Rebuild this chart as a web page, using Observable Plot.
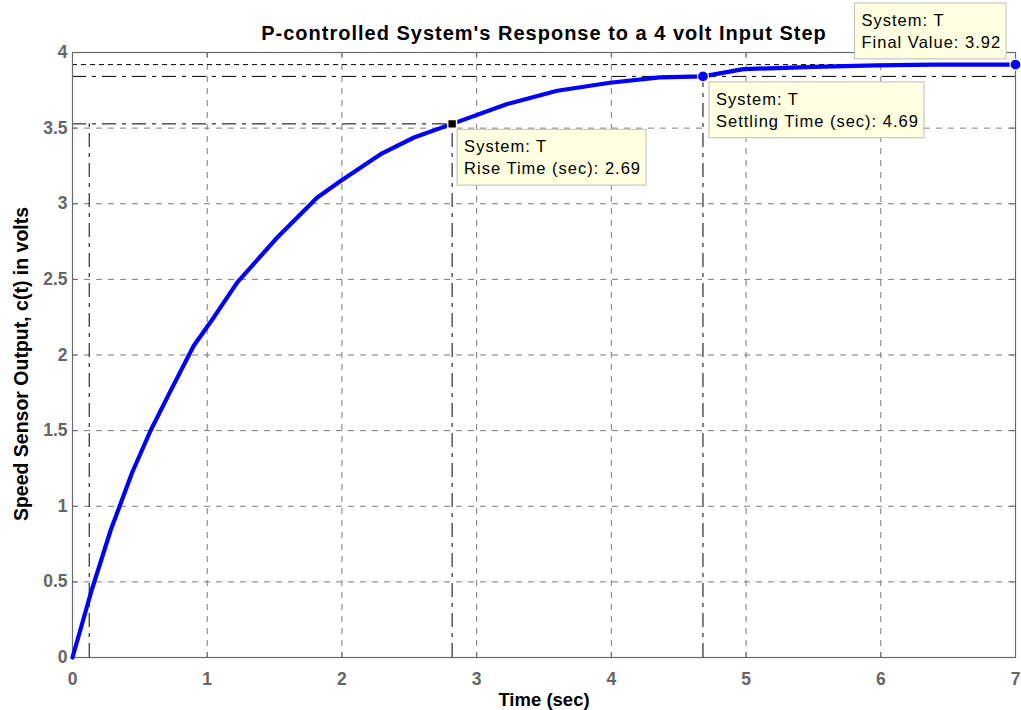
<!DOCTYPE html>
<html><head><meta charset="utf-8">
<script src="https://cdn.jsdelivr.net/npm/d3@7"></script>
<script src="https://cdn.jsdelivr.net/npm/@observablehq/plot@0.6"></script>
<style>body{margin:0;background:#fff} svg{display:block}</style>
</head><body><div id="chart"></div>
<script>
// Step response samples
const time   = [0, 0.134, 0.282, 0.443, 0.579, 0.728, 0.90, 1.05, 1.222, 1.52, 1.817, 1.99, 2.287, 2.535, 2.818, 3.227, 3.598, 3.99, 4.36, 4.68, 4.98, 5.5, 5.97, 6.39, 7];
const output = [0, 0.42, 0.838, 1.223, 1.499, 1.763, 2.061, 2.25, 2.479, 2.777, 3.041, 3.15, 3.328, 3.438, 3.528, 3.659, 3.747, 3.80, 3.835, 3.842, 3.89, 3.905, 3.915, 3.92, 3.92];

// Axis ticks
const xTicks = [0, 1, 2, 3, 4, 5, 6, 7];
const xTickLabels = ["0", "1", "2", "3", "4", "5", "6", "7"];
const yTicks = [0, 0.5, 1, 1.5, 2, 2.5, 3, 3.5, 4];
const yTickLabels = ["0", "0.5", "1", "1.5", "2", "2.5", "3", "3.5", "4"];

// Characteristics
const finalValue = 3.92;
const riseStart = 0.124;
const riseEnd = 2.818;
const riseLevel = 3.528;
const settleTime = 4.68;
const settleLevel = 3.842;

// Datatips
const tipTimes  = [riseEnd, settleTime, 7];
const tipValues = [riseLevel, settleLevel, finalValue];
const tipTexts  = ["System: T\nRise Time (sec): 2.69", "System: T\nSettling Time (sec): 4.69", "System: T\nFinal Value: 3.92"];

const titleText = "P-controlled System's Response to a 4 volt Input Step";
const xLabel = "Time (sec)";
const yLabel = "Speed Sensor Output, c(t) in volts";

const curve = time.map((t, i) => ({t, v: output[i]}));
const tips = tipTimes.map((t, i) => ({t, v: tipValues[i], text: tipTexts[i], i}));
const tipDx = [12, 13, -154];
const tipDy = [13, 13, -54];

const W = 1021, H = 710;
const grid = {stroke: "#7a7a7a", strokeWidth: 1, strokeDasharray: "6,6"};
const font = "Liberation Sans, Arial, Helvetica, sans-serif";
const tickLen = 5 / 151.25, tickLenX = 5 / 134.7;
const charLine = {stroke: "#000", strokeWidth: 1, strokeDasharray: "14,6,4,6"};

const chart = Plot.plot({
  width: W, height: H,
  marginLeft: 72, marginRight: 6, marginTop: 52, marginBottom: 53,
  x: {domain: [0, 7], axis: null},
  y: {domain: [0, 4], axis: null},
  style: {fontFamily: font, background: "#fff", overflow: "visible"},
  marks: [
    Plot.ruleX(xTicks.slice(1, -1), {x: d => d, ...grid}),
    Plot.ruleY(yTicks.slice(1, -1), {y: d => d, ...grid}),
    // characteristic lines
    Plot.ruleY([finalValue], {y: d => d, stroke: "#000", strokeWidth: 1, strokeDasharray: "5,4"}),
    Plot.ruleY([settleLevel], {y: d => d, ...charLine}),
    Plot.ruleY([riseLevel], {y: d => d, x1: 0, x2: riseEnd, ...charLine}),
    Plot.ruleX([riseStart, riseEnd], {x: d => d, y1: 0, y2: riseLevel, ...charLine}),
    Plot.ruleX([settleTime], {x: d => d, y1: 0, y2: settleLevel, ...charLine}),
    // inward ticks
    Plot.ruleX(xTicks, {x: d => d, y1: 0, y2: tickLen, stroke: "#6a6a6a"}),
    Plot.ruleX(xTicks, {x: d => d, y1: 4 - tickLen, y2: 4, stroke: "#6a6a6a"}),
    Plot.ruleY(yTicks, {y: d => d, x1: 0, x2: tickLenX, stroke: "#6a6a6a"}),
    Plot.ruleY(yTicks, {y: d => d, x1: 7 - tickLenX, x2: 7, stroke: "#6a6a6a"}),
    Plot.frame({stroke: "#6a6a6a", strokeWidth: 1.2}),
    // response
    Plot.line(curve, {x: "t", y: "v", stroke: "#0000ff", strokeWidth: 4.2, curve: "linear"}),
    // markers
    Plot.dot(tips.filter(d => d.i === 0), {x: "t", y: "v", symbol: "square", r: 5, fill: "#000", stroke: "#ffffe0", strokeWidth: 1.5}),
    Plot.dot(tips.filter(d => d.i > 0), {x: "t", y: "v", r: 5.5, fill: "#0000ff", stroke: "#ffffe0", strokeWidth: 1.2}),
    // tick labels
    Plot.text(xTicks, {x: d => d, frameAnchor: "bottom", text: (d, i) => xTickLabels[i], dy: 15, lineAnchor: "top",
      fontSize: 17.5, fontWeight: "bold", fill: "#666"}),
    Plot.text(yTicks, {y: d => d, frameAnchor: "left", text: (d, i) => yTickLabels[i], dx: -5, textAnchor: "end",
      fontSize: 17.5, fontWeight: "bold", fill: "#666"}),
    // datatips
    Plot.text(tips, {x: "t", y: "v", text: "text", textAnchor: "start", lineAnchor: "top",
      fontSize: 16.5, lineHeight: 1.32, fill: "#000", fontFamily: font}),
    // titles
    Plot.text([titleText], {frameAnchor: "top", text: d => d, dy: -13, lineAnchor: "bottom", fontSize: 20, fontWeight: "bold", fill: "#000"}),
    Plot.text([xLabel], {frameAnchor: "bottom", text: d => d, dy: 48, lineAnchor: "bottom", fontSize: 18.5, fontWeight: "bold", fill: "#000"}),
    Plot.text([yLabel], {frameAnchor: "left", text: d => d, dx: -45, dy: 9, rotate: -90, textAnchor: "middle", lineAnchor: "bottom", fontSize: 19.5, fontWeight: "bold", fill: "#000"})
  ]
});
document.getElementById("chart").appendChild(chart);

const svg = d3.select(chart);
// title letter spacing
svg.selectAll("text").filter(function() { return this.textContent === titleText; })
  .attr("letter-spacing", "1px");

// Position datatip text with pixel offsets and draw their boxes
svg.selectAll("text").filter(function() { return this.textContent.startsWith("System"); }).each(function() {
  const t = d3.select(this);
  const idx = tipTexts.findIndex(s => s.replace("\n", "") === this.textContent.replace("\n", ""));
  const base = t.attr("transform") || "";
  t.attr("transform", base + ` translate(${tipDx[idx]},${tipDy[idx]})`).attr("letter-spacing", "1px");
  const bb = this.getBBox();
  d3.select(this.parentNode).insert("rect", () => this)
    .attr("transform", t.attr("transform"))
    .attr("x", bb.x - 7).attr("y", bb.y - 8)
    .attr("width", bb.width + 12).attr("height", bb.height + 16)
    .attr("fill", "#ffffe1").attr("stroke", "#c8c8bc").attr("stroke-width", 1.2);
});
</script>
</body></html>
